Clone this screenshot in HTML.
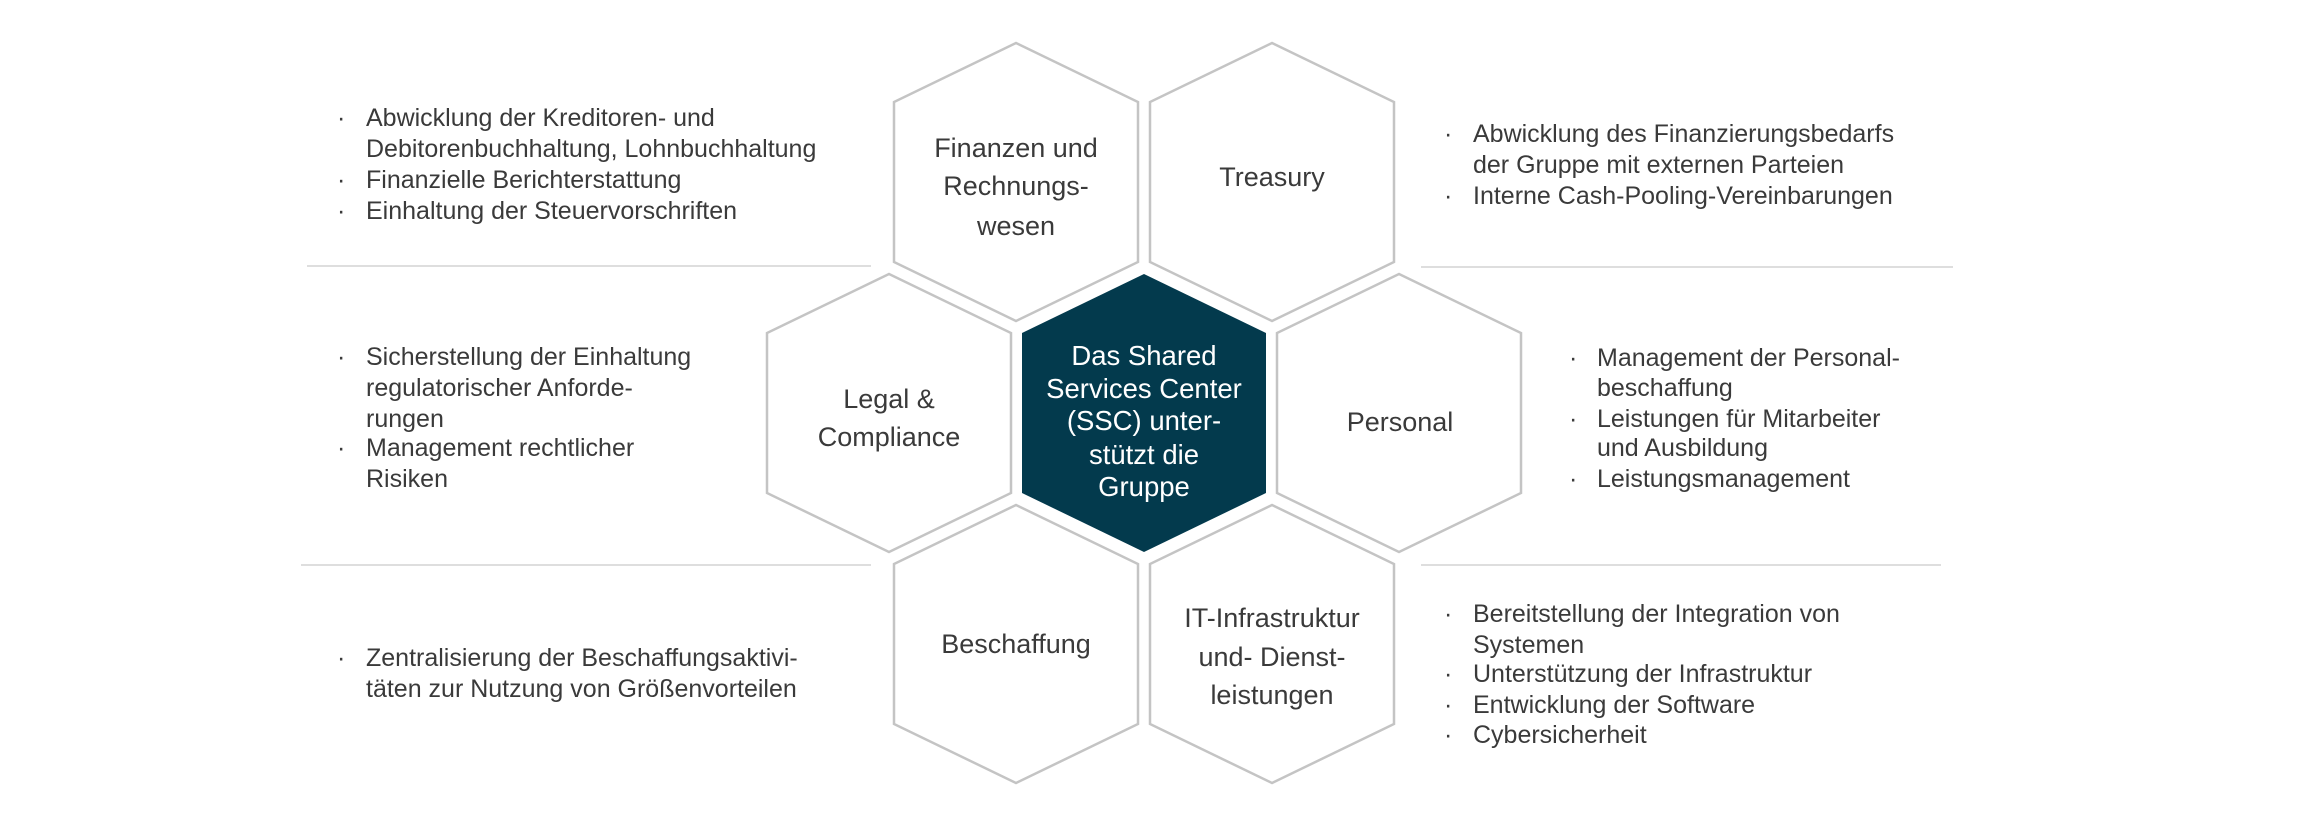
<!DOCTYPE html>
<html><head><meta charset="utf-8"><style>
html,body{margin:0;padding:0;background:#fff;}
svg{display:block;}
text{font-family:"Liberation Sans",sans-serif;fill:#3a3a3a;}
.l{font-size:25px;}
.h{font-size:27px;text-anchor:middle;}
.c{font-size:27.5px;text-anchor:middle;fill:#fff;}
</style></head><body>
<svg width="2303" height="821" viewBox="0 0 2303 821" xmlns="http://www.w3.org/2000/svg">
<defs>
<polygon id="hx" points="0,-139 122,-80 122,80 0,139 -122,80 -122,-80"/>
</defs>
<g stroke="#d4d4d4" stroke-width="1.5">
<line x1="307" y1="266" x2="871" y2="266"/>
<line x1="301" y1="565" x2="871" y2="565"/>
<line x1="1421" y1="267" x2="1953" y2="267"/>
<line x1="1421" y1="565" x2="1941" y2="565"/>
</g>
<g fill="#fff" stroke="#c4c4c4" stroke-width="2.5">
<use href="#hx" x="1016" y="182"/>
<use href="#hx" x="1272" y="182"/>
<use href="#hx" x="889" y="413"/>
<use href="#hx" x="1399" y="413"/>
<use href="#hx" x="1016" y="644"/>
<use href="#hx" x="1272" y="644"/>
</g>
<use href="#hx" x="1144" y="413" fill="#033a4d"/>

<text class="h" x="1016" y="157">Finanzen und</text>
<text class="h" x="1016" y="195">Rechnungs-</text>
<text class="h" x="1016" y="235">wesen</text>
<text class="h" x="1272" y="186">Treasury</text>
<text class="h" x="889" y="408">Legal &amp;</text>
<text class="h" x="889" y="446">Compliance</text>
<text class="h" x="1400" y="431">Personal</text>
<text class="h" x="1016" y="653">Beschaffung</text>
<text class="h" x="1272" y="627">IT-Infrastruktur</text>
<text class="h" x="1272" y="666">und- Dienst-</text>
<text class="h" x="1272" y="704">leistungen</text>

<text class="c" x="1144" y="365">Das Shared</text>
<text class="c" x="1144" y="398">Services Center</text>
<text class="c" x="1144" y="430">(SSC) unter-</text>
<text class="c" x="1144" y="464">stützt die</text>
<text class="c" x="1144" y="496">Gruppe</text>

<g class="l">
<text class="l" x="337" y="126">·</text><text class="l" x="366" y="126">Abwicklung der Kreditoren- und</text>
<text class="l" x="366" y="157">Debitorenbuchhaltung, Lohnbuchhaltung</text>
<text class="l" x="337" y="188">·</text><text class="l" x="366" y="188">Finanzielle Berichterstattung</text>
<text class="l" x="337" y="219">·</text><text class="l" x="366" y="219">Einhaltung der Steuervorschriften</text>

<text class="l" x="337" y="365">·</text><text class="l" x="366" y="365">Sicherstellung der Einhaltung</text>
<text class="l" x="366" y="396">regulatorischer Anforde-</text>
<text class="l" x="366" y="427">rungen</text>
<text class="l" x="337" y="456">·</text><text class="l" x="366" y="456">Management rechtlicher</text>
<text class="l" x="366" y="487">Risiken</text>

<text class="l" x="337" y="666">·</text><text class="l" x="366" y="666">Zentralisierung der Beschaffungsaktivi-</text>
<text class="l" x="366" y="697">täten zur Nutzung von Größenvorteilen</text>

<text class="l" x="1444" y="142">·</text><text class="l" x="1473" y="142">Abwicklung des Finanzierungsbedarfs</text>
<text class="l" x="1473" y="173">der Gruppe mit externen Parteien</text>
<text class="l" x="1444" y="204">·</text><text class="l" x="1473" y="204">Interne Cash-Pooling-Vereinbarungen</text>

<text class="l" x="1569" y="366">·</text><text class="l" x="1597" y="366">Management der Personal-</text>
<text class="l" x="1597" y="396">beschaffung</text>
<text class="l" x="1569" y="427">·</text><text class="l" x="1597" y="427">Leistungen für Mitarbeiter</text>
<text class="l" x="1597" y="456">und Ausbildung</text>
<text class="l" x="1569" y="487">·</text><text class="l" x="1597" y="487">Leistungsmanagement</text>

<text class="l" x="1444" y="622">·</text><text class="l" x="1473" y="622">Bereitstellung der Integration von</text>
<text class="l" x="1473" y="653">Systemen</text>
<text class="l" x="1444" y="682">·</text><text class="l" x="1473" y="682">Unterstützung der Infrastruktur</text>
<text class="l" x="1444" y="713">·</text><text class="l" x="1473" y="713">Entwicklung der Software</text>
<text class="l" x="1444" y="743">·</text><text class="l" x="1473" y="743">Cybersicherheit</text>
</g>
</svg>
</body></html>
